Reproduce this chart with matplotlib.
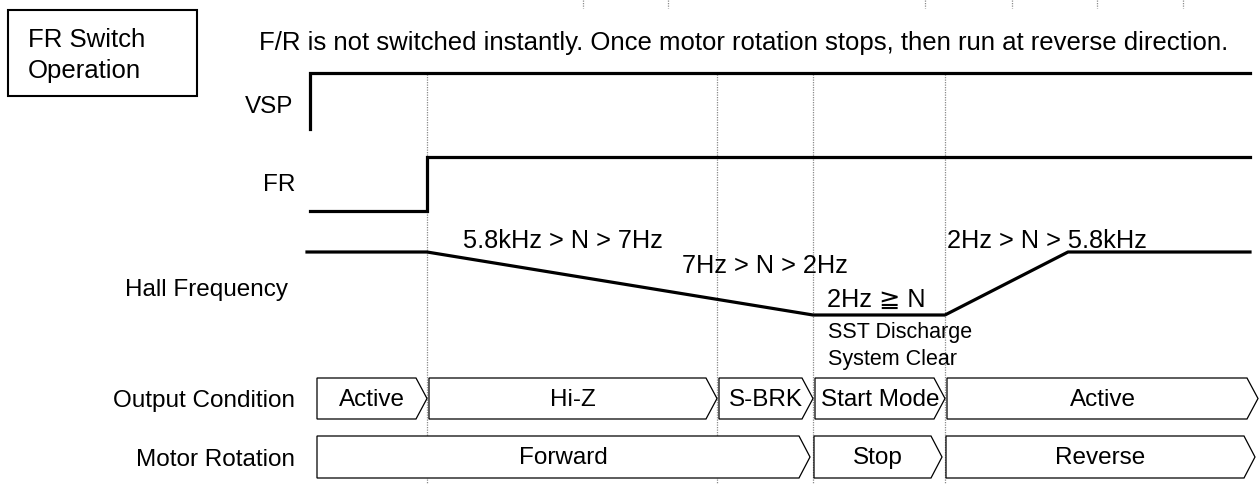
import matplotlib
matplotlib.use("Agg")
import matplotlib.pyplot as plt
from matplotlib.patches import Polygon, Rectangle

plt.rcParams['font.family'] = ['Liberation Sans', 'DejaVu Sans']

# event times along the horizontal axis
t_begin = 310
t_fr = 427      # FR switched
t_brk = 717     # short brake
t_stop = 813    # rotation stopped
t_rev = 945     # reverse start
t_full = 1068   # reverse at full speed
t_end = 1250

# signals: (time, level) pairs, level 0 = low, 1 = high
vsp_t = [t_begin, t_begin, t_end]
vsp_lvl = [0, 1, 1]
fr_t = [t_begin, t_fr, t_fr, t_end]
fr_lvl = [0, 0, 1, 1]
hall_t = [307, t_fr, t_stop, t_rev, t_full, t_end]
hall_lvl = [1, 1, 0, 0, 1, 1]

hall_labels = ["5.8kHz > N > 7Hz", "7Hz > N > 2Hz", "2Hz ≧ N", "2Hz > N > 5.8kHz"]
stop_notes = ["SST Discharge", "System Clear"]

out_states = ["Active", "Hi-Z", "S-BRK", "Start Mode", "Active"]
out_edges = [317, t_fr, t_brk, t_stop, t_rev, 1258]
motor_states = ["Forward", "Stop", "Reverse"]
motor_edges = [317, t_stop, t_rev, 1258]

markers = [t_fr, t_brk, t_stop, t_rev]
top_marks = [583, 668, 925, 1012, 1097, 1183]

signal_names = ["VSP", "FR", "Hall Frequency", "Output Condition", "Motor Rotation"]
title = "F/R is not switched instantly. Once motor rotation stops, then run at reverse direction."

fig = plt.figure(figsize=(12.59, 4.84), dpi=100)
ax = fig.add_axes([0, 0, 1, 1])
ax.set_xlim(0, 1259)
ax.set_ylim(484, 0)
ax.axis("off")

LW = 2.3
# lanes: (y_low, y_high)
lane_vsp = (129, 73)
lane_fr = (211, 157)
lane_hall = (315, 252)


def level_y(lane, lv):
    return [lane[0] + (lane[1] - lane[0]) * v for v in lv]


ax.plot(vsp_t, level_y(lane_vsp, vsp_lvl), color="black", lw=LW, solid_joinstyle="miter")
ax.plot(fr_t, level_y(lane_fr, fr_lvl), color="black", lw=LW, solid_joinstyle="miter")
ax.plot(hall_t, level_y(lane_hall, hall_lvl), color="black", lw=LW)

# dotted timing markers
for x in markers:
    ax.plot([x, x], [74, 484], color="#8a8a8a", lw=0.9, ls=(0, (1, 1)), zorder=0)
for x in top_marks:
    ax.plot([x, x], [0, 8], color="#8a8a8a", lw=0.9, ls=(0, (1, 1)), zorder=0)

# header box + title
ax.add_patch(Rectangle((8, 10), 189, 86, fill=False, lw=1.5, ec="black"))
ax.text(28, 47, "FR Switch", fontsize=18.5, va="baseline")
ax.text(28, 78, "Operation", fontsize=18.5, va="baseline")
ax.text(259, 50, title, fontsize=18.5, va="baseline")

# signal names
name_pos = [(293, 113), (295, 191), (288, 296), (295, 407), (295, 466)]
for name, (x, y) in zip(signal_names, name_pos):
    ax.text(x, y, name, fontsize=17.5, ha="right", va="baseline")

# hall frequency annotations
hall_pos = [(463, 248), (682, 273), (827, 307), (947, 248)]
for lab, (x, y) in zip(hall_labels, hall_pos):
    ax.text(x, y, lab, fontsize=18.3, va="baseline")
for i, note in enumerate(stop_notes):
    ax.text(828, 338 + 27 * i, note, fontsize=15.5, va="baseline")


def chevrons(states, edges, y0, y1, start_gap, tip_gap, depth=11):
    ym = (y0 + y1) / 2
    for i, s in enumerate(states):
        xs = edges[i] + (start_gap if i > 0 else 0)
        xt = edges[i + 1] - tip_gap
        pts = [(xs, y0), (xt - depth, y0), (xt, ym), (xt - depth, y1), (xs, y1)]
        ax.add_patch(Polygon(pts, closed=True, fill=True, fc="white", ec="black", lw=0.9))
        ax.text((xs + xt) / 2, ym + 1, s, fontsize=17.5, ha="center", va="center")


chevrons(out_states, out_edges, 378, 419, 2, 0)
chevrons(motor_states, motor_edges, 436, 478, 1, 3)

fig.savefig("out.png", dpi=100)
